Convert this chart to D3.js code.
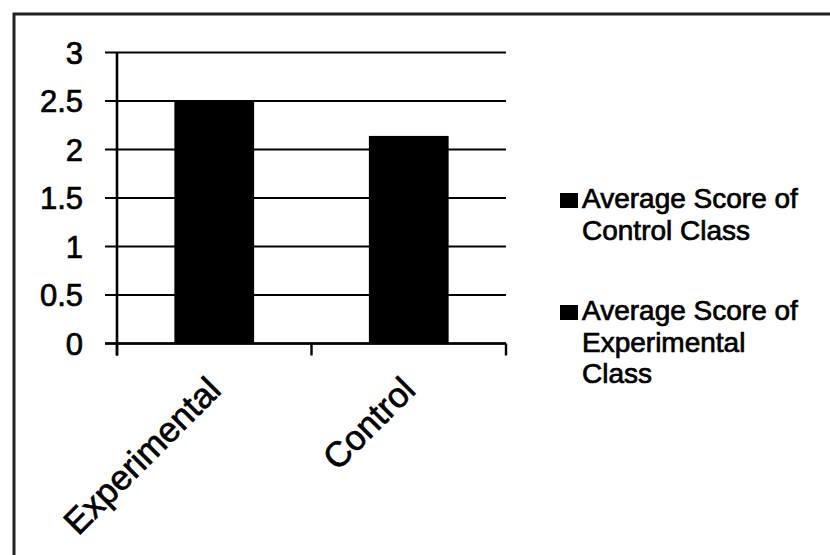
<!DOCTYPE html>
<html>
<head>
<meta charset="utf-8">
<script src="https://cdn.jsdelivr.net/npm/d3@7"></script>
<style>
  html, body { margin: 0; padding: 0; background: #fff; }
  svg { display: block; }
  text { font-family: "Liberation Sans", Arial, sans-serif; fill: #000; stroke: #000; stroke-width: 0.7px; }
</style>
</head>
<body>
<svg id="chart" width="830" height="555"></svg>
<script>
// Average scores per class group
const categories = ["Experimental", "Control"];
const scores = [2.5, 2.14];
const yTicks = [0, 0.5, 1, 1.5, 2, 2.5, 3];
const legendItems = [
  ["Average Score of", "Control Class"],
  ["Average Score of", "Experimental", "Class"]
];

const svg = d3.select("#chart");

// outer frame (open to the right and bottom edges)
svg.append("rect")
  .attr("x", 14).attr("y", 14)
  .attr("width", 840).attr("height", 560)
  .attr("fill", "none").attr("stroke", "#222").attr("stroke-width", 3);

const plot = { left: 117, right: 506, top: 52.5, bottom: 343.5 };

const x = d3.scaleBand().domain(categories).range([plot.left, plot.right]).padding(0);
const y = d3.scaleLinear().domain([0, 3]).range([plot.bottom, plot.top]);

// horizontal gridlines with left tick stubs
svg.append("g").selectAll("line").data(yTicks).join("line")
  .attr("x1", plot.left - 12).attr("x2", plot.right)
  .attr("y1", d => y(d)).attr("y2", d => y(d))
  .attr("stroke", "#000").attr("stroke-width", 2.2);

// y tick labels
svg.append("g").selectAll("text").data(yTicks).join("text")
  .attr("x", 83).attr("y", d => y(d))
  .attr("dy", "0.36em")
  .attr("text-anchor", "end")
  .attr("font-size", 31)
  .text(d => d3.format("~g")(d));

// bars
const barW = x.bandwidth() * 0.41;
svg.append("g").selectAll("rect").data(categories).join("rect")
  .attr("x", (d) => x(d) + x.bandwidth() / 2 - barW / 2)
  .attr("y", (d, i) => y(scores[i]))
  .attr("width", barW)
  .attr("height", (d, i) => y(0) - y(scores[i]))
  .attr("fill", "#000");

// y axis line
svg.append("line")
  .attr("x1", plot.left).attr("x2", plot.left)
  .attr("y1", plot.top).attr("y2", plot.bottom + 12)
  .attr("stroke", "#000").attr("stroke-width", 2.6);

// x axis line and category boundary ticks
svg.append("line")
  .attr("x1", plot.left - 12).attr("x2", plot.right)
  .attr("y1", plot.bottom).attr("y2", plot.bottom)
  .attr("stroke", "#000").attr("stroke-width", 2.6);
const boundaries = categories.map(c => x(c)).concat([plot.right]);
svg.append("g").selectAll("line").data(boundaries).join("line")
  .attr("x1", d => d).attr("x2", d => d)
  .attr("y1", plot.bottom).attr("y2", plot.bottom + 12)
  .attr("stroke", "#000").attr("stroke-width", 2.4);

// rotated category labels
svg.append("g").selectAll("text").data(categories).join("text")
  .attr("transform", d => `translate(${x(d) + x.bandwidth() / 2 + 8.5},392) rotate(-45)`)
  .attr("text-anchor", "end")
  .attr("font-size", 35)
  .text(d => d);

// legend
const legendTops = [208, 320];
const lineH = 31.5;
legendItems.forEach((lines, i) => {
  const base = legendTops[i];
  svg.append("rect")
    .attr("x", 560).attr("y", base - 15)
    .attr("width", 18).attr("height", 15)
    .attr("fill", "#000");
  const t = svg.append("text")
    .attr("x", 582).attr("y", base)
    .attr("font-size", 28);
  lines.forEach((s, j) => {
    t.append("tspan").attr("x", 582).attr("y", base + j * lineH).text(s);
  });
});
</script>
</body>
</html>
